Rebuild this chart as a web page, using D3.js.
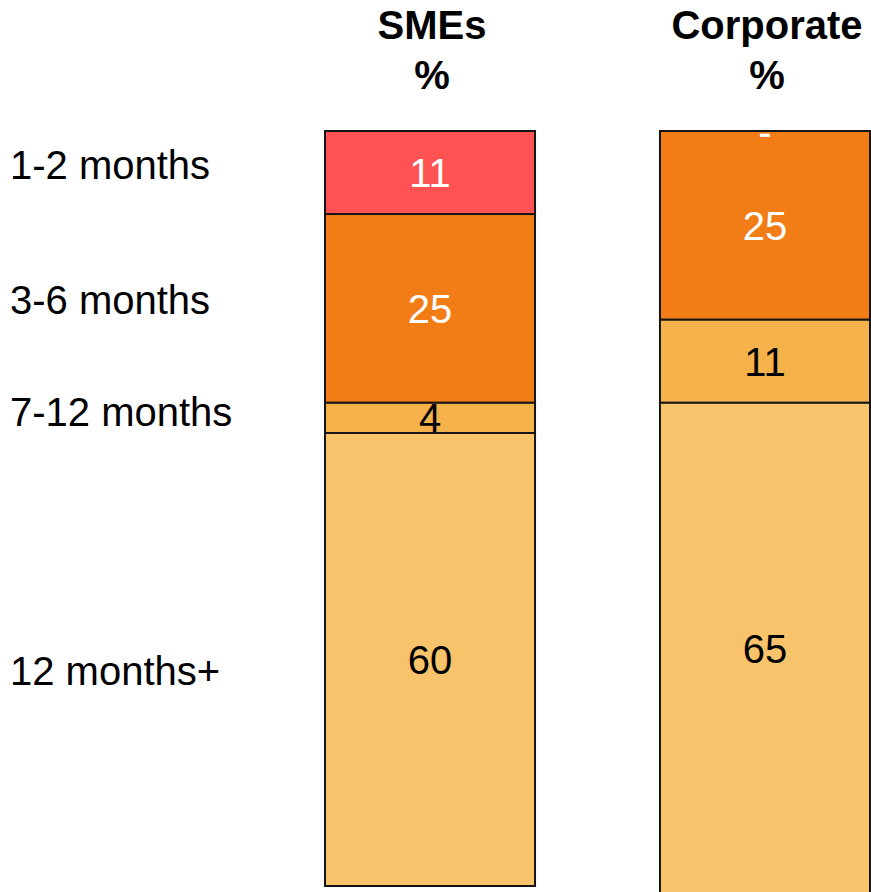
<!DOCTYPE html>
<html>
<head>
<meta charset="utf-8">
<script src="https://cdn.jsdelivr.net/npm/d3@7"></script>
<style>
  html, body { margin: 0; padding: 0; background: #fff; }
  svg { display: block; font-family: "Liberation Sans", Arial, sans-serif; }
</style>
</head>
<body>
<svg id="chart" width="871" height="892"></svg>
<script>
// Time-to-payment buckets, top of the stack first
const categories = ["1-2 months", "3-6 months", "7-12 months", "12 months+"];
const groups = ["SMEs", "Corporate"];
const smeValues = [11, 25, 4, 60];
const corporateValues = [0, 25, 11, 65];
const colors = ["#FF5353", "#F27D16", "#F5B14A", "#F8C36A"];
const valueTextColors = ["#ffffff", "#ffffff", "#000000", "#000000"];

const seriesByGroup = { SMEs: smeValues, Corporate: corporateValues };

const svg = d3.select("#chart");
const FONT = 40;

const x = d3.scaleBand()
  .domain(groups)
  .range([325, 870])
  .paddingInner(0.373)
  .paddingOuter(0);

const y = d3.scaleLinear().domain([0, 100]).range([131, 886]);

// Build stacked segments from the top down
const segments = [];
groups.forEach(g => {
  let acc = 0;
  seriesByGroup[g].forEach((v, i) => {
    segments.push({ group: g, index: i, value: v, y0: acc, y1: acc + v });
    acc += v;
  });
});

const plot = svg.append("g");

plot.selectAll("rect.seg")
  .data(segments)
  .join("rect")
  .attr("class", "seg")
  .attr("x", d => x(d.group))
  .attr("width", x.bandwidth())
  .attr("y", d => y(d.y0))
  .attr("height", d => y(d.y1) - y(d.y0))
  .attr("fill", d => colors[d.index])
  .attr("stroke", "#151515")
  .attr("stroke-width", 2);

// Value labels; an empty segment shows a dash
plot.selectAll("text.val")
  .data(segments)
  .join("text")
  .attr("class", "val")
  .attr("x", d => x(d.group) + x.bandwidth() / 2)
  .attr("y", d => (y(d.y0) + y(d.y1)) / 2 + 14.5)
  .attr("text-anchor", "middle")
  .attr("font-size", FONT)
  .attr("fill", d => valueTextColors[d.index])
  .text(d => d.value === 0 ? "-" : d.value);

// Column headers
const header = svg.append("g");
groups.forEach(g => {
  const cx = x(g) + x.bandwidth() / 2 + 2;
  header.append("text")
    .attr("x", cx).attr("y", 39)
    .attr("text-anchor", "middle")
    .attr("font-size", FONT).attr("font-weight", "bold")
    .text(g);
  header.append("text")
    .attr("x", cx).attr("y", 89)
    .attr("text-anchor", "middle")
    .attr("font-size", FONT).attr("font-weight", "bold")
    .text("%");
});

// Row labels on the left, aligned with the SMEs segments
let accSme = 0;
const rowMids = smeValues.map(v => { const m = (y(accSme) + y(accSme + v)) / 2; accSme += v; return m; });
const rowNudge = [6.5, 6, 8, 25];
svg.append("g").selectAll("text")
  .data(categories)
  .join("text")
  .attr("x", 10)
  .attr("y", (d, i) => rowMids[i] + rowNudge[i])
  .attr("font-size", FONT)
  .attr("fill", "#000")
  .text(d => d);
</script>
</body>
</html>
